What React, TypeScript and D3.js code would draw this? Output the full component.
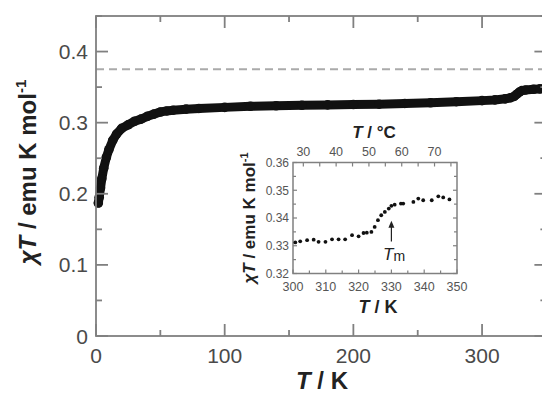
import React from "react";
import * as d3 from "d3";

// Main plot data: T (K) vs chiT (emu K mol^-1)
const mainT = [1.8, 2.5, 3.5, 4.5, 6, 8, 10, 13, 16, 20, 25, 30, 35, 40, 45, 50, 55, 60, 70, 80, 100, 120, 140, 160, 180, 200, 220, 240, 260, 280, 300, 310, 318, 322, 325, 327, 329, 331, 334, 340, 345, 350];
const mainChi = [0.187, 0.195, 0.208, 0.221, 0.236, 0.251, 0.262, 0.275, 0.284, 0.292, 0.297, 0.302, 0.305, 0.309, 0.312, 0.315, 0.3165, 0.3175, 0.319, 0.32, 0.3215, 0.323, 0.3238, 0.3245, 0.325, 0.3255, 0.326, 0.327, 0.328, 0.3295, 0.331, 0.332, 0.3335, 0.335, 0.337, 0.34, 0.343, 0.345, 0.346, 0.347, 0.3475, 0.348];
const dashedLevel = 0.375;

// Inset data
const insetT = [300.7, 302.2, 304.3, 306.3, 307.8, 309.9, 311.9, 313.9, 315.9, 318, 320, 321.5, 322.5, 323.9, 324.9, 325.9, 326.9, 328, 329.2, 330, 331, 332.9, 333.6, 336.7, 338.2, 339.7, 342.3, 344.3, 345.8, 347.7];
const insetChi = [0.3312, 0.3316, 0.332, 0.3322, 0.3314, 0.3314, 0.3323, 0.3323, 0.3323, 0.3338, 0.3334, 0.3346, 0.3347, 0.335, 0.3368, 0.3392, 0.341, 0.3422, 0.3434, 0.3444, 0.3448, 0.3452, 0.3452, 0.3458, 0.347, 0.3464, 0.3464, 0.3478, 0.3474, 0.3467];

const mainXTicks = [0, 100, 200, 300];
const mainYTicks = [0, 0.1, 0.2, 0.3, 0.4];
const insetXTicks = [300, 310, 320, 330, 340, 350];
const insetYTicks = [0.32, 0.33, 0.34, 0.35, 0.36];
const insetCTicks = [30, 40, 50, 60, 70];
const Tm = 330;
const arrowFrom = 0.3315;
const arrowTo = 0.339;

const FONT = "'Liberation Sans', Arial, Helvetica, sans-serif";
const AX = "#808080";
const LBL = "#4a4a4a";
const TTL = "#222";

export default function App() {
  const x = d3.scaleLinear().domain([0, 350]).range([96, 546.4]);
  const y = d3.scaleLinear().domain([0, 0.45]).range([336, 16]);
  const xi = d3.scaleLinear().domain([300, 350]).range([293, 457]);
  const yi = d3.scaleLinear().domain([0.32, 0.36]).range([273.5, 162.5]);
  const xc = d3.scaleLinear().domain([26.85, 76.85]).range([293, 457]);

  const mainPts = mainT.map((t, i) => [t, mainChi[i]] as [number, number]);
  const line = d3.line<[number, number]>().x((d) => x(d[0])).y((d) => y(d[1]));

  const minorX = d3.range(0, 351, 50);
  const minorY = d3.range(0, 0.451, 0.05);
  const iMinorX = d3.range(300, 350.1, 5);
  const iMinorY = d3.range(0.32, 0.3601, 0.005);
  const iMinorC = d3.range(30, 76.9, 5);

  const x0 = x.range()[0], x1 = x.range()[1];
  const y0 = y.range()[0], y1 = y.range()[1];
  const ix0 = xi.range()[0], ix1 = xi.range()[1];
  const iy0 = yi.range()[0], iy1 = yi.range()[1];

  const isMajorX = (v: number) => Math.abs(v % 100) < 1e-6;
  const isMajorY = (v: number) => Math.abs(Math.round(v * 10) - v * 10) < 1e-6;
  const isMajorI = (v: number) => Math.abs(v % 10) < 1e-6;
  const isMajorIY = (v: number) => Math.abs(Math.round(v * 100) - v * 100) < 1e-6;

  const ax = xi(Tm);
  const ayFrom = yi(arrowFrom);
  const ayTo = yi(arrowTo);

  return (
    <svg width={542} height={396} style={{ position: "absolute", left: 0, top: 0, background: "#fff" }} fontFamily={FONT}>
      <defs>
        <clipPath id="plotclip">
          <rect x={x0 - 6} y={y1} width={x1 - x0 + 6} height={y0 - y1} />
        </clipPath>
      </defs>
      {/* dashed reference */}
      <line x1={x0} x2={x1} y1={y(dashedLevel)} y2={y(dashedLevel)} stroke="#aaa" strokeWidth={2} strokeDasharray="8,5" />
      {/* main data */}
      <g clipPath="url(#plotclip)">
        <path d={line(mainPts) || ""} fill="none" stroke="#111" strokeWidth={9} strokeLinejoin="round" strokeLinecap="round" />
        {mainPts.map((d, i) => (
          <circle key={i} cx={x(d[0])} cy={y(d[1])} r={4.8} fill="#111" />
        ))}
      </g>
      {/* main frame */}
      <rect x={x0} y={y1} width={x1 - x0} height={y0 - y1} fill="none" stroke={AX} strokeWidth={1.8} />
      {minorX.map((v) => {
        const L = isMajorX(v) ? 12 : 6;
        return (
          <g key={"mx" + v}>
            <line x1={x(v)} x2={x(v)} y1={y0} y2={y0 - L} stroke={AX} strokeWidth={1.8} />
            <line x1={x(v)} x2={x(v)} y1={y1} y2={y1 + L} stroke={AX} strokeWidth={1.8} />
          </g>
        );
      })}
      {minorY.map((v) => {
        const L = isMajorY(v) ? 12 : 6;
        return (
          <g key={"my" + v}>
            <line x1={x0} x2={x0 + L} y1={y(v)} y2={y(v)} stroke={AX} strokeWidth={1.8} />
            <line x1={x1} x2={x1 - L} y1={y(v)} y2={y(v)} stroke={AX} strokeWidth={1.8} />
          </g>
        );
      })}
      {mainXTicks.map((v) => (
        <text key={"xl" + v} x={x(v)} y={363} textAnchor="middle" fontSize={21} fill={LBL}>
          {String(v)}
        </text>
      ))}
      {mainYTicks.map((v) => (
        <text key={"yl" + v} x={88} y={y(v) + 7.5} textAnchor="end" fontSize={21} fill={LBL}>
          {v === 0 ? "0" : v.toFixed(1)}
        </text>
      ))}
      <text x={322} y={389} textAnchor="middle" fontSize={24} fontWeight="bold" fill={TTL}>
        <tspan fontStyle="italic">T</tspan> / K
      </text>
      <text transform="translate(36,172) rotate(-90)" textAnchor="middle" fontSize={24} fontWeight="bold" fill={TTL}>
        <tspan fontStyle="italic">χT</tspan> / emu K mol<tspan fontSize={15} dy={-10}>-1</tspan>
      </text>

      {/* inset */}
      <rect x={ix0} y={iy1} width={ix1 - ix0} height={iy0 - iy1} fill="#fff" stroke={AX} strokeWidth={1.5} />
      {iMinorX.map((v) => {
        const L = isMajorI(v) ? 4 : 3;
        return (
          <g key={"ix" + v}>
            <line x1={xi(v)} x2={xi(v)} y1={iy0} y2={iy0 - L} stroke={AX} strokeWidth={1.2} />
          </g>
        );
      })}
      {iMinorC.map((v) => (
        <line key={"ic" + v} x1={xc(v)} x2={xc(v)} y1={iy1} y2={iy1 + 4} stroke={AX} strokeWidth={1.2} />
      ))}
      {iMinorY.map((v) => {
        const L = isMajorIY(v) ? 4 : 3;
        return (
          <g key={"iy" + v}>
            <line x1={ix0} x2={ix0 + L} y1={yi(v)} y2={yi(v)} stroke={AX} strokeWidth={1.2} />
            <line x1={ix1} x2={ix1 - L} y1={yi(v)} y2={yi(v)} stroke={AX} strokeWidth={1.2} />
          </g>
        );
      })}
      {insetT.map((t, i) => (
        <circle key={"ip" + i} cx={xi(t)} cy={yi(insetChi[i])} r={1.9} fill="#111" />
      ))}
      {insetXTicks.map((v) => (
        <text key={"ixl" + v} x={xi(v)} y={291} textAnchor="middle" fontSize={12.5} fill="#555">
          {String(v)}
        </text>
      ))}
      {insetCTicks.map((v) => (
        <text key={"icl" + v} x={xc(v)} y={156} textAnchor="middle" fontSize={12.5} fill="#555">
          {String(v)}
        </text>
      ))}
      {insetYTicks.map((v) => (
        <text key={"iyl" + v} x={289} y={yi(v) + 4.3} textAnchor="end" fontSize={12} fill="#555">
          {v.toFixed(2)}
        </text>
      ))}
      <text x={378} y={313} textAnchor="middle" fontSize={18} fontWeight="bold" fill={TTL}>
        <tspan fontStyle="italic">T</tspan> / K
      </text>
      <text x={374} y={138} textAnchor="middle" fontSize={17} fontWeight="bold" fill={TTL}>
        <tspan fontStyle="italic">T</tspan> / °C
      </text>
      <text transform="translate(255,218) rotate(-90)" textAnchor="middle" fontSize={17} fontWeight="bold" fill={TTL}>
        <tspan fontStyle="italic">χT</tspan> / emu K mol<tspan fontSize={11} dy={-7}>-1</tspan>
      </text>
      {/* Tm arrow */}
      <line x1={ax} x2={ax} y1={ayFrom} y2={ayTo + 5} stroke="#222" strokeWidth={1.2} />
      <path d={`M${ax},${ayTo} L${ax - 3},${ayTo + 7} L${ax + 3},${ayTo + 7} Z`} fill="#222" />
      <text x={383} y={260} fontSize={17} fill={TTL}>
        <tspan fontStyle="italic">T</tspan>
        <tspan fontSize={14} dy={1}>m</tspan>
      </text>
    </svg>
  );
}
